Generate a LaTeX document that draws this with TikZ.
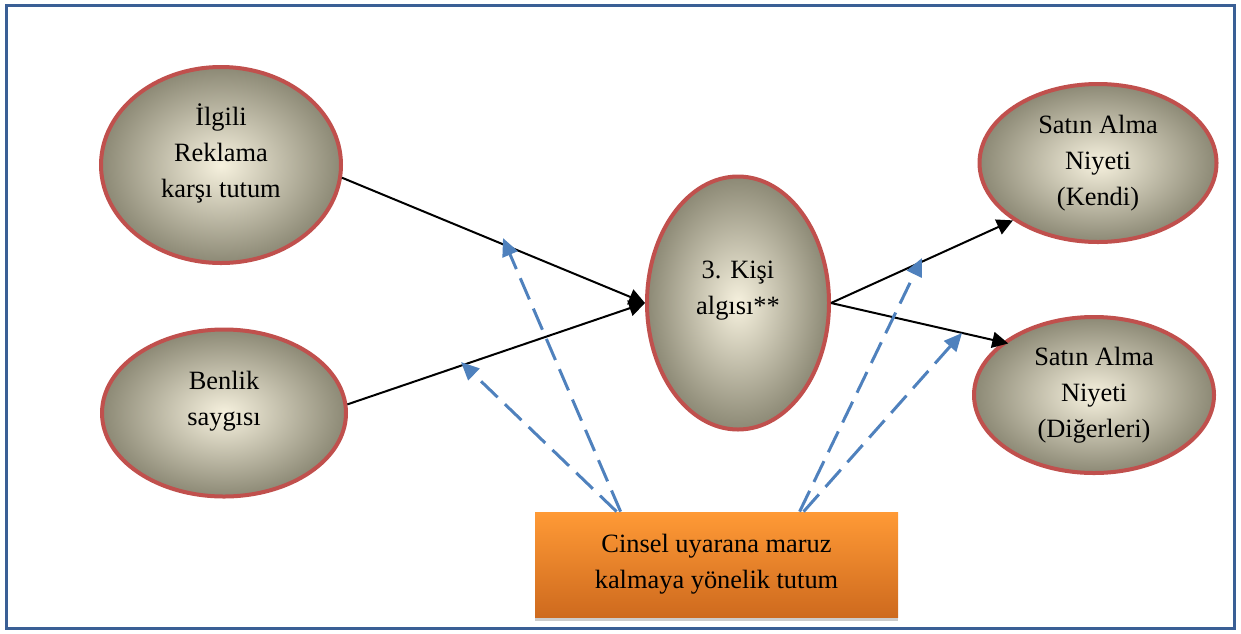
\documentclass[tikz,border=0pt]{standalone}
\usepackage{fontspec}
\setmainfont{Liberation Serif}
\usetikzlibrary{shapes.geometric,arrows.meta,shadows}
\definecolor{ovalred}{HTML}{C0504D}
\definecolor{ovalin}{HTML}{F6F1DE}
\definecolor{ovalout}{HTML}{8C8975}
\definecolor{dashblue}{HTML}{4F81BD}
\definecolor{frameblue}{HTML}{3A5F95}
\definecolor{boxtop}{HTML}{FF9A36}
\definecolor{boxbot}{HTML}{CE6A1E}

\begin{document}
\begin{tikzpicture}[
  x=0.5pt,y=-0.5pt,
  every node/.style={font=\fontsize{13.2}{18}\selectfont,align=center},
  oval/.style={ellipse,draw=ovalred,line width=2pt,inner sep=0pt,
    inner color=ovalin,outer color=ovalout},
  attitude/.style={rectangle,inner sep=0pt,minimum width=181.5pt,minimum height=52.5pt,
    top color=boxtop,bottom color=boxbot,
    drop shadow={shadow xshift=0pt,shadow yshift=-2pt,fill=black!40}},
  effect/.style={-{Triangle[length=8pt,width=8pt]},line width=1pt},
  moderate/.style={-{Triangle[length=9pt,width=8pt]},dashblue,line width=1.5pt,
    dash pattern=on 11.5pt off 5pt}
]
  \useasboundingbox (0,0) rectangle (1241,633);
  \draw[frameblue,line width=1.5pt] (6.5,5.5) rectangle (1234.5,628);

  \node[oval,minimum width=120pt,minimum height=98pt,text depth=14pt] (reklam) at (221,165)
    {İlgili\\Reklama\\karşı tutum};
  \node[oval,minimum width=122pt,minimum height=83.5pt,text depth=15pt] (benlik) at (224,413)
    {Benlik\\saygısı};
  \node[oval,minimum width=91pt,minimum height=126.5pt,text depth=15pt] (kisi) at (738,303)
    {3. Kişi\\algısı**};
  \node[oval,minimum width=118.5pt,minimum height=79pt] (kendi) at (1098,163)
    {Satın Alma\\Niyeti\\(Kendi)};
  \node[oval,minimum width=120pt,minimum height=78pt] (diger) at (1094,395)
    {Satın Alma\\Niyeti\\(Diğerleri)};
  \node[attitude] (cinsel) at (716.5,564.5)
    {Cinsel uyarana maruz\\kalmaya yönelik tutum};

  \draw[effect] (reklam.-6) -- (kisi.west);
  \draw[effect] (benlik.4) -- (kisi.west);
  \draw[effect] (kisi.east) -- (kendi.214);
  \draw[effect,shorten >=-3pt] (kisi.east) -- (diger.150);

  % moderating paths end on the arrows
  \coordinate (m1) at (503,238);
  \coordinate (m2) at (461,362);
  \coordinate (m3) at (922,258);
  \coordinate (m4) at (962,333);
  \draw[moderate] ([xshift=43pt]cinsel.north west) -- (m1);
  \draw[moderate] ([xshift=41pt]cinsel.north west) -- (m2);
  \draw[moderate] ([xshift=132.5pt]cinsel.north west) -- (m3);
  \draw[moderate] ([xshift=134.5pt]cinsel.north west) -- (m4);
\end{tikzpicture}
\end{document}
